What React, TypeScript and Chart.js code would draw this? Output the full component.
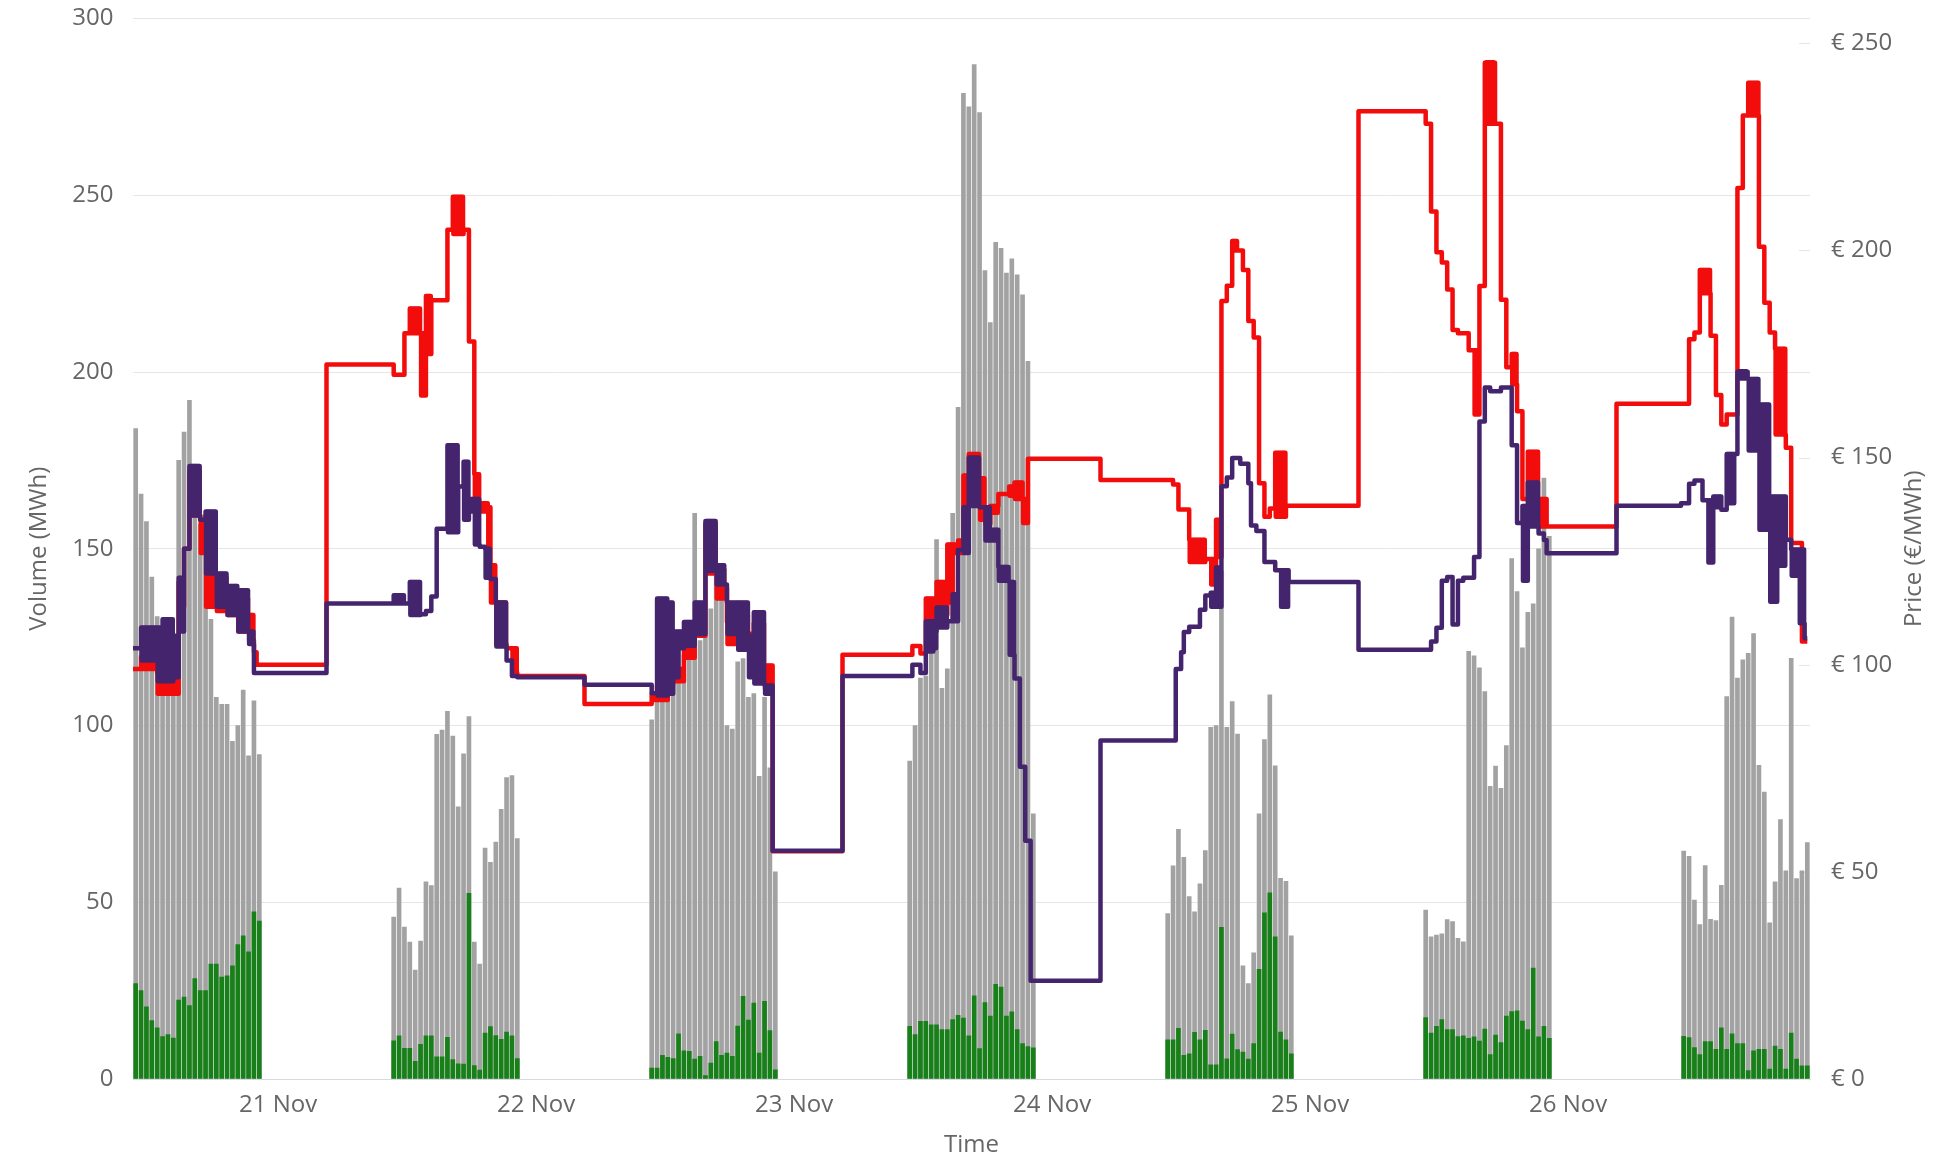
import React, { useEffect, useRef } from 'react';
import { Chart, registerables } from 'chart.js';

Chart.register(...registerables);

const W = 1933;
const H = 1161;

// time axis: hours since 20 Nov 00:00
const firstDay = 20;
const firstSlotHour = 10.5; // first half-hour slot starts 10:30
const slotHours = 0.5;
const xMin = 10.5;
const xMax = 166.5;
const xTickHours = [24, 48, 72, 96, 120, 144];
const volumeTicks = [0, 50, 100, 150, 200, 250, 300];
const priceTicks = [0, 50, 100, 150, 200, 250];

// total traded volume per half hour (MWh), grey bars
const total20 = [184, 165.5, 157.7, 142, 130.8, 127, 125, 124, 175, 183, 192, 158.7, 157, 156, 130, 108, 106, 106, 95.5, 100, 110, 91.4, 107, 91.8];
const total21 = [45.8, 54, 43, 38.7, 30.8, 39, 55.8, 54.7, 97.5, 98.7, 104, 97, 77, 92, 102.5, 38.7, 32.5, 65.3, 61.3, 67, 76.3, 85.3, 85.8, 68];
const total22 = [101.6, 107.7, 108.8, 107.5, 111, 115.5, 120, 119, 160, 124, 125.5, 133, 145, 135.6, 100, 99, 118, 118.9, 108, 109, 85.6, 108, 88, 58.6];
const total23 = [89.9, 100, 113.4, 114, 126, 152.6, 110.5, 116, 160, 190, 278.8, 275, 287, 273.4, 228.7, 214, 236.7, 235, 228, 232, 227.5, 221.8, 203, 75];
const total24 = [46.8, 60.3, 70.6, 62.7, 51.6, 47.3, 55.2, 64.6, 99.5, 100, 143.6, 99.5, 106.8, 97.6, 32, 27, 35.7, 75, 96, 108.7, 88.6, 56.8, 55.9, 40.5];
const total25 = [47.8, 40.2, 40.7, 41.1, 45.1, 44.5, 39.8, 38.8, 121, 119.7, 116.3, 109.6, 82.8, 88.5, 82.2, 94.3, 147.2, 137.9, 122, 132, 134.4, 150, 170, 153.5];
const total26 = [64.5, 63, 50.6, 43.7, 60.4, 45.2, 44.8, 54.8, 108.2, 130.7, 113.4, 118.6, 120.4, 126, 88.7, 81.2, 44.2, 55.8, 73.4, 58.9, 119, 56.7, 58.9, 66.9];

// green part of the volume (MWh)
const green20 = [27, 25, 20.4, 16.5, 14.5, 12, 12.6, 11.6, 22.3, 23.2, 20.8, 28.4, 25, 25, 32.5, 32.5, 28.8, 29.2, 32, 38, 40.5, 36, 47.3, 44.7];
const green21 = [10.8, 12.2, 8.7, 8.7, 5, 9.8, 12.2, 12.2, 6.3, 6.3, 11.8, 5.5, 4.3, 4.2, 52.5, 3.8, 2.5, 13, 14.8, 12.3, 11.2, 13.3, 12.2, 5.8];
const green22 = [3.1, 3.1, 6.7, 6.1, 5.8, 12.8, 8, 7.8, 5.6, 6.4, 1, 4.5, 10.6, 6.7, 7.3, 6.4, 15, 23.4, 16.7, 21.5, 7.3, 22, 13.7, 2.6];
const green23 = [14.9, 12.6, 16.3, 16.3, 15.3, 15.3, 14, 14, 16.8, 18, 17.2, 12.2, 23.5, 8.6, 21.6, 17.8, 26.8, 26, 17.8, 19, 14, 10, 9.2, 8.8];
const green24 = [11.1, 11.1, 14.3, 6.7, 7.1, 13.2, 11.1, 13.8, 4, 4, 42.9, 5.7, 12.7, 8.3, 7.6, 5.6, 10, 31, 47, 52.7, 40.2, 13.3, 11.1, 7.1];
const green25 = [17.4, 13, 14.9, 16.8, 14, 14, 12, 12.2, 11.5, 11.9, 10.7, 14.1, 6.9, 12.4, 10.3, 17.8, 19.1, 19.3, 16.4, 14, 31.4, 11.9, 14.9, 11.5];
const green26 = [12.1, 11.7, 8.9, 6.9, 10.6, 10.6, 8.4, 14.5, 8.4, 12.8, 10, 10, 2.4, 8, 8.4, 8.4, 2.8, 9.3, 8.4, 2.8, 13, 5.6, 3.7, 3.7];

// price steps [start hour, low €/MWh, high €/MWh (range of rapid swings)]
const red20 = [[10.5, 99], [11.25, 99, 102], [12.75, 93, 98], [14.75, 114, 120], [15.25, 128], [15.75, 136, 147], [16.75, 127, 135], [17.25, 114, 136], [18.25, 113, 121], [19.25, 112, 118], [20.25, 108, 116], [21.25, 106, 112], [21.75, 103], [22, 100]];
const red21 = [[28.5, 172.5], [34.75, 170], [35.75, 180], [36.25, 180, 186], [37.25, 165, 180], [37.75, 175, 189], [38.25, 188], [39.75, 205], [40.25, 204, 213], [41.25, 205], [41.75, 178], [42.25, 138, 146], [42.75, 137, 139], [43.5, 125, 138], [43.75, 115, 124], [44.25, 105, 115], [45.25, 104], [45.75, 98, 104], [46.25, 97.3]];
const red22 = [[52.5, 90.5], [58.75, 91.5, 93], [59.25, 91.5, 95], [60.25, 95, 97], [60.75, 96, 99], [61.75, 101.7, 106.5], [62.75, 107, 109], [63.75, 122, 134], [64.75, 116, 123], [65.5, 116, 118.5], [65.75, 105, 110.3], [66.75, 104, 112], [67.75, 105, 107.5], [68.25, 100, 110], [69.25, 94, 99.8], [70, 55]];
const red23 = [[76.5, 102.4], [83, 104.5], [83.75, 102.7], [84.25, 109, 116], [85, 112, 116], [85.25, 112, 120], [86.25, 115, 129], [86.75, 127, 129], [87.25, 127, 130], [87.75, 138, 145.7], [88.25, 145, 150.9], [89.25, 135, 145], [89.75, 134, 136.7], [90.25, 136.7, 138.3], [91, 141.2], [92, 140.8, 143], [92.5, 140, 144], [93.25, 134.2, 140], [93.75, 149.7]];
const red24 = [[100.5, 144.6], [107.25, 143.5], [107.75, 137.5], [108.75, 124.8, 130.2], [110.25, 125.5], [110.75, 119.4, 125.5], [111.25, 126, 135], [111.75, 187.8], [112.25, 191.5], [112.75, 200, 202.3], [113.25, 200], [113.75, 195.3], [114.25, 183], [114.75, 179], [115.25, 143.8], [115.75, 135.7], [116.25, 137.7], [116.75, 135.7, 151.2], [117.75, 138.4]];
const red25 = [[124.5, 233.6], [130.75, 230.6], [131.25, 209.4], [131.75, 199.6], [132.25, 197.1], [132.75, 190.6], [133.25, 180.8], [133.75, 180], [134.75, 175.9], [135.25, 160.4, 175.9], [135.75, 191.4], [136.25, 230.6, 245.3], [137.25, 230.6], [137.75, 188.1], [138.25, 171.8], [138.75, 167.7, 175], [139.25, 161.2], [139.75, 140], [140.25, 138.3, 151.4], [141.25, 133.4, 140], [142, 133.4]];
const red26 = [[148.5, 163], [155.25, 178.6], [155.75, 180.2], [156.25, 189.7, 195.3], [157.25, 179.4], [157.75, 165.1], [158.25, 158], [158.75, 160.4], [159.75, 215.1], [160.25, 232.6], [160.75, 232.6, 240.5], [161.75, 200.9], [162.25, 187.4], [162.75, 180.2], [163.25, 155.6, 176.3], [164.25, 152.4], [164.75, 129.4], [165.75, 105.6], [166.25, 105.6]];

const purple20 = [[10.5, 104], [11.25, 101, 109], [12.75, 96, 109], [13.25, 96, 111], [14.25, 97, 107], [14.75, 108, 121], [15.25, 128], [15.75, 136, 148], [16.75, 135], [17.25, 122, 137], [18.25, 114, 122], [19.25, 112, 119], [20.25, 108, 118], [21.25, 105, 108], [21.75, 98]];
const purple21 = [[28.5, 114.8], [34.75, 114.8, 116.8], [35.75, 114.8], [36.25, 112, 120], [37.25, 112.2], [37.75, 113], [38.25, 116.5], [38.75, 132.8], [39.75, 132, 153], [40.75, 143], [41.25, 135, 149], [41.75, 137, 140], [42.25, 129, 140], [42.75, 128.5], [43.25, 121, 128], [43.75, 120.7], [44.25, 104.4, 115], [45.25, 101], [45.75, 97.3], [46.25, 97]];
const purple22 = [[52.5, 95.2], [58.75, 93.1], [59.25, 92.6, 116], [60.25, 93, 115], [60.75, 97, 108], [61.25, 104, 108], [61.75, 104.6, 110.3], [62.75, 107.4, 115], [63.75, 122.7, 134.7], [64.75, 119.4, 124], [65.5, 119.4], [65.75, 107.4, 115], [66.75, 103.6, 115], [67.75, 97, 107], [68.25, 95.5, 112.7], [69.25, 93, 95], [70, 55.1]];
const purple23 = [[76.5, 97.3], [83, 100], [83.75, 98], [84.25, 103.2, 110.5], [85, 104, 108], [85.25, 109, 113.8], [86.25, 110.5], [86.75, 110.5, 117], [87.25, 127.7], [87.75, 127, 138], [88.25, 138.3, 150], [89.25, 138], [89.75, 130, 138], [90.25, 130, 132.6], [91, 120.3, 123.6], [92, 102.4, 120], [92.5, 96.7], [93, 75.4], [93.5, 57.5], [94, 23.7]];
const purple24 = [[100.5, 81.7], [107.5, 99], [108, 103], [108.25, 107.9], [108.75, 109.2], [109.75, 113.3], [110.25, 116.7], [110.75, 114, 117.4], [111.25, 114, 123.5], [111.75, 143.1], [112.25, 145.2], [112.75, 149.9], [113.5, 148.5], [114.25, 143.8], [114.5, 133.6], [115, 132.3], [115.75, 124.8], [116.75, 122.8], [117.25, 114, 122.8], [118, 120]];
const purple25 = [[124.5, 103.6], [131.25, 105.6], [131.75, 108.9], [132.25, 120.3], [132.75, 121.2], [133.25, 109.7], [133.75, 120.3], [134.25, 121], [135.25, 126], [135.75, 158.7], [136.25, 166.9], [136.75, 166], [137.75, 166.9], [138.75, 153], [139.25, 134.2], [139.75, 120.3, 138.3], [140.25, 133.4, 144], [141.25, 131.7], [141.75, 130.1], [142, 126.9]];
const purple26 = [[148.5, 138.4], [154.5, 139], [155.25, 143.7], [155.75, 144.5], [156.5, 139.7], [157, 124.7, 139.7], [157.5, 138, 140.6], [158.25, 137.4], [158.75, 139, 150.9], [159.5, 150.9], [159.75, 169.1, 170.7], [160.75, 151.7, 169], [161.75, 132.6, 162.8], [162.75, 115.2, 140.6], [163.5, 123.9, 140.6], [164.25, 130.2], [164.75, 121.5, 127.8], [165.5, 110, 127.8], [166, 106.4], [166.25, 106.4]];

const totals = [total20, total21, total22, total23, total24, total25, total26];
const greens = [green20, green21, green22, green23, green24, green25, green26];
const redSteps = [...red20, ...red21, ...red22, ...red23, ...red24, ...red25, ...red26];
const purpleSteps = [...purple20, ...purple21, ...purple22, ...purple23, ...purple24, ...purple25, ...purple26];

const GREY = '#a2a2a2';
const GREEN = '#188018';
const RED = '#f20c0c';
const PURPLE = '#45246e';
const TEXT = '#666666';
const FONT = "'Open Sans', sans-serif";

function barPoints(days: number[][]) {
  const out: { x: number; y: number }[] = [];
  days.forEach((day, d) => {
    day.forEach((v, j) => {
      out.push({ x: firstSlotHour + d * 24 + (j + 0.5) * slotHours, y: v });
    });
  });
  return out;
}

// a step with a low/high range is drawn as rapid swings between the two values
function stepPoints(steps: number[][]) {
  const out: { x: number; y: number }[] = [];
  const swing = 0.05;
  for (let i = 0; i < steps.length; i++) {
    const s = steps[i];
    const h = s[0];
    const lo = s[1];
    const hi = s.length > 2 ? s[2] : s[1];
    const next = i + 1 < steps.length ? steps[i + 1][0] : h;
    if (hi === lo || next <= h) {
      out.push({ x: h, y: lo });
      continue;
    }
    const n = Math.max(2, Math.round((next - h) / swing));
    for (let k = 0; k < n; k++) {
      out.push({ x: h + ((next - h) * k) / n, y: k % 2 === 0 ? hi : lo });
    }
  }
  return out;
}

const decorPlugin = {
  id: 'decor',
  beforeDatasetsDraw(chart: any) {
    const { ctx, chartArea } = chart;
    const yp = chart.scales.yPrice;
    ctx.save();
    ctx.strokeStyle = '#e6e6e6';
    ctx.lineWidth = 1;
    ctx.beginPath();
    for (const v of priceTicks) {
      const y = Math.round(yp.getPixelForValue(v)) + 0.5;
      ctx.moveTo(chartArea.right - 11, y);
      ctx.lineTo(chartArea.right, y);
    }
    ctx.stroke();
    ctx.restore();
  },
  afterDraw(chart: any) {
    const { ctx, chartArea } = chart;
    const cy = (chartArea.top + chartArea.bottom) / 2;
    ctx.save();
    ctx.fillStyle = TEXT;
    ctx.font = `24px ${FONT}`;
    ctx.textAlign = 'center';
    ctx.textBaseline = 'middle';
    ctx.save();
    ctx.translate(39, cy);
    ctx.rotate(-Math.PI / 2);
    ctx.fillText('Volume (MWh)', 0, 0);
    ctx.restore();
    ctx.save();
    ctx.translate(1914, cy);
    ctx.rotate(-Math.PI / 2);
    ctx.fillText('Price (€/MWh)', 0, 0);
    ctx.restore();
    ctx.fillText('Time', (chartArea.left + chartArea.right) / 2, 1145);
    ctx.restore();
  },
};

export default function App() {
  const ref = useRef<HTMLCanvasElement>(null);

  useEffect(() => {
    if (!ref.current) return;
    Chart.defaults.font.family = FONT;
    Chart.defaults.font.size = 24;
    Chart.defaults.color = TEXT;

    const lineStyle = {
      type: 'line',
      xAxisID: 'x',
      yAxisID: 'yPrice',
      borderWidth: 4.5,
      stepped: true,
      pointRadius: 0,
      fill: false,
      borderJoinStyle: 'round',
    };

    const chart = new Chart(ref.current, {
      type: 'bar',
      data: {
        datasets: [
          {
            ...lineStyle,
            label: 'Price B',
            data: stepPoints(purpleSteps),
            borderColor: PURPLE,
            backgroundColor: PURPLE,
            order: 0,
          } as any,
          {
            ...lineStyle,
            label: 'Price A',
            data: stepPoints(redSteps),
            borderColor: RED,
            backgroundColor: RED,
            order: 1,
          } as any,
          {
            type: 'bar',
            label: 'Green volume',
            data: barPoints(greens),
            xAxisID: 'x',
            yAxisID: 'yVol',
            backgroundColor: GREEN,
            borderWidth: 0,
            barThickness: 4,
            grouped: false,
            order: 2,
          } as any,
          {
            type: 'bar',
            label: 'Volume',
            data: barPoints(totals),
            xAxisID: 'x',
            yAxisID: 'yVol',
            backgroundColor: GREY,
            borderWidth: 0,
            barThickness: 4,
            grouped: false,
            order: 3,
          } as any,
        ],
      },
      options: {
        responsive: false,
        devicePixelRatio: 1,
        animation: false,
        events: [],
        layout: { padding: { top: 18.5, left: 0, right: 0, bottom: 0 } },
        plugins: {
          legend: { display: false },
          tooltip: { enabled: false },
        },
        scales: {
          x: {
            type: 'linear',
            position: 'bottom',
            min: xMin,
            max: xMax,
            offset: false,
            grid: { display: false, drawTicks: false },
            border: { display: true, color: '#d5d9e2', width: 1 },
            ticks: {
              padding: 12,
              maxRotation: 0,
              autoSkip: false,
              color: TEXT,
              callback: (v: any) => `${firstDay + Number(v) / 24} Nov`,
            },
            afterBuildTicks: (s: any) => {
              s.ticks = xTickHours.map((v) => ({ value: v }));
            },
            afterFit: (s: any) => {
              s.height = 82;
              s.paddingLeft = 0;
              s.paddingRight = 0;
            },
          },
          yVol: {
            type: 'linear',
            position: 'left',
            min: 0,
            max: 300,
            grid: { color: '#e6e6e6', drawTicks: false, lineWidth: 1 },
            border: { display: false },
            ticks: { padding: 19.5, color: TEXT },
            afterBuildTicks: (s: any) => {
              s.ticks = volumeTicks.map((v) => ({ value: v }));
            },
            afterFit: (s: any) => {
              s.width = 133;
              s.paddingTop = 0;
              s.paddingBottom = 0;
            },
          },
          yPrice: {
            type: 'linear',
            position: 'right',
            min: 0,
            max: 256,
            grid: { display: false, drawTicks: false },
            border: { display: false },
            ticks: {
              padding: 21,
              color: TEXT,
              callback: (v: any) => `€ ${v}`,
            },
            afterBuildTicks: (s: any) => {
              s.ticks = priceTicks.map((v) => ({ value: v }));
            },
            afterFit: (s: any) => {
              s.width = 123;
              s.paddingTop = 0;
              s.paddingBottom = 0;
            },
          },
        },
      } as any,
      plugins: [decorPlugin],
    });

    return () => chart.destroy();
  }, []);

  return (
    <div style={{ position: 'fixed', left: 0, top: 0, width: W, height: H, background: '#ffffff' }}>
      <canvas ref={ref} width={W} height={H} style={{ width: W, height: H, display: 'block' }} />
    </div>
  );
}
